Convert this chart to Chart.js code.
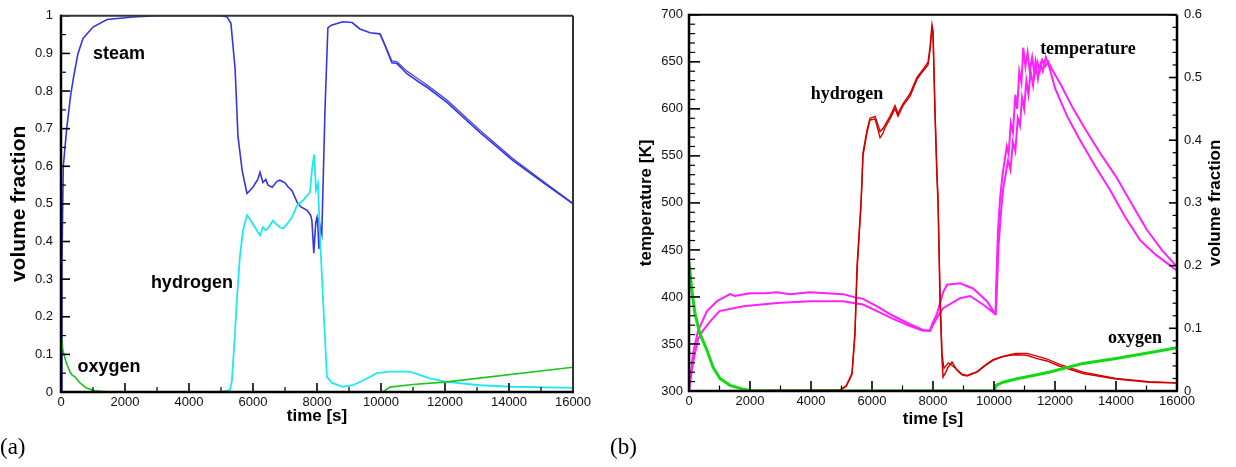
<!DOCTYPE html>
<html>
<head>
<meta charset="utf-8">
<script src="https://cdn.jsdelivr.net/npm/chart.js@4.4.0/dist/chart.umd.min.js"></script>
<style>
body { margin: 0; background: #fff; width: 1236px; height: 467px; position: relative; overflow: hidden; }
canvas { position: absolute; top: 0; }
#ca { left: 0; }
#cb { left: 605px; }
.tag { position: absolute; top: 435px; font: 23px "Liberation Serif", "Times New Roman", serif; line-height: 23px; color: #000; }
</style>
</head>
<body>
<canvas id="ca" width="600" height="467"></canvas>
<canvas id="cb" width="631" height="467"></canvas>
<div class="tag" style="left:0">(a)</div>
<div class="tag" style="left:610px">(b)</div>
<script>
// ---- (a) volume fractions ----
const steamTime = [0, 30, 72, 178, 303, 400, 531, 688, 1000, 1438, 2250, 3000, 5000, 5190, 5310, 5440, 5530, 5660, 5810, 5900, 6000, 6150, 6220, 6310, 6400, 6470, 6600, 6750, 6840, 7000, 7100, 7220, 7380, 7500, 7690, 7800, 7840, 7900, 7960, 8000, 8030, 8060, 8100, 8150, 8250, 8340, 8450, 8810, 9100, 9340, 9660, 9970, 10060, 10190, 10340, 10500, 10810, 11220, 11440, 12060, 13090, 14125, 15190, 16000];
const steamFrac = [0, 0.35, 0.6, 0.7, 0.79, 0.84, 0.9, 0.94, 0.97, 0.99, 0.997, 1, 1, 0.997, 0.98, 0.86, 0.68, 0.59, 0.528, 0.535, 0.545, 0.565, 0.584, 0.557, 0.565, 0.55, 0.544, 0.56, 0.563, 0.556, 0.545, 0.535, 0.504, 0.492, 0.483, 0.47, 0.456, 0.369, 0.45, 0.464, 0.438, 0.38, 0.44, 0.42, 0.75, 0.968, 0.975, 0.984, 0.982, 0.965, 0.955, 0.952, 0.934, 0.907, 0.875, 0.873, 0.846, 0.822, 0.81, 0.77, 0.69, 0.615, 0.549, 0.5];
const steam2Time = [9970, 10060, 10190, 10340, 10500, 10810, 11220, 11440, 12060, 13090, 14125, 15190, 16000];
const steam2Frac = [0.952, 0.936, 0.91, 0.88, 0.878, 0.853, 0.829, 0.816, 0.776, 0.696, 0.62, 0.552, 0.502];

const h2Time = [0, 4970, 5280, 5340, 5440, 5500, 5590, 5690, 5810, 5900, 6060, 6220, 6310, 6400, 6470, 6625, 6700, 6840, 6940, 7100, 7220, 7380, 7560, 7780, 7840, 7910, 7970, 8030, 8090, 8190, 8310, 8470, 8810, 9130, 9560, 9875, 10280, 10900, 11530, 12060, 13090, 14125, 16000];
const h2Frac = [0, 0, 0.005, 0.03, 0.16, 0.25, 0.36, 0.43, 0.47, 0.46, 0.438, 0.416, 0.438, 0.43, 0.435, 0.456, 0.448, 0.438, 0.435, 0.45, 0.465, 0.496, 0.509, 0.531, 0.589, 0.631, 0.536, 0.554, 0.42, 0.244, 0.04, 0.024, 0.014, 0.018, 0.036, 0.05, 0.054, 0.054, 0.036, 0.027, 0.018, 0.014, 0.011];

const o2Time = [0, 62, 156, 281, 350, 438, 594, 781, 1060, 1530, 10060, 10280, 11000, 12060, 16000];
const o2Frac = [0.157, 0.11, 0.08, 0.053, 0.045, 0.04, 0.024, 0.011, 0.003, 0, 0, 0.013, 0.02, 0.027, 0.066];

// ---- (b) temperature [K] and volume fractions ----
const tempATime = [0, 33, 131, 295, 590, 918, 1344, 1500, 2000, 2500, 2885, 3300, 3968, 4500, 5050, 5400, 5705, 6165, 6690, 7246, 7673, 7902, 7968, 8131, 8330, 8460, 8886, 9312, 9770, 10034, 10060, 10130, 10200, 10280, 10350, 10420, 10480, 10550, 10620, 10700, 10760, 10830, 10900, 10960, 11030, 11100, 11170, 11250, 11330, 11420, 11500, 11580, 11680, 11780, 11900, 12200, 12600, 13000, 13500, 14000, 14500, 15000, 15500, 16000];
const tempAK = [300, 311, 340, 364, 385, 395.5, 403, 401, 404, 404, 405, 403, 405, 404, 403, 400, 398, 390, 380, 371, 365, 364, 371, 382, 405, 413, 414.5, 409, 395.5, 382, 400, 470, 505, 530, 545, 560, 552, 585, 575, 615, 600, 640, 628, 665, 645, 660, 640, 655, 636, 650, 640, 652, 645, 650, 642, 625, 600, 578, 552, 528, 500, 472, 450, 432];
const tempBTime = [0, 33, 131, 295, 450, 710, 1000, 1780, 2885, 3968, 5050, 5705, 6165, 6690, 7246, 7673, 7902, 8131, 8330, 8886, 9214, 9640, 10034, 10080, 10150, 10230, 10300, 10380, 10460, 10540, 10620, 10700, 10780, 10850, 10920, 10990, 11060, 11130, 11200, 11280, 11360, 11440, 11520, 11600, 11700, 11780, 11850, 12000, 12400, 12800, 13300, 13800, 14300, 14800, 15300, 16000];
const tempBK = [300, 308, 330, 355, 364, 374.5, 385, 390, 393.5, 395.5, 395.5, 392, 385, 376.6, 369, 364, 364, 378, 388, 398.7, 401, 392, 382, 395, 455, 490, 515, 530, 545, 535, 565, 555, 590, 582, 612, 600, 630, 615, 640, 625, 650, 632, 648, 640, 655, 648, 640, 622, 592, 568, 540, 514, 485, 460, 445, 428];

const h2ATime = [0, 4950, 5150, 5345, 5443, 5510, 5575, 5640, 5705, 5837, 5935, 6100, 6263, 6350, 6427, 6590, 6755, 6853, 7017, 7246, 7476, 7673, 7837, 7902, 7968, 8000, 8066, 8132, 8165, 8230, 8296, 8330, 8420, 8493, 8624, 8788, 8950, 9116, 9444, 9700, 9968, 10250, 10525, 10722, 11083, 11380, 11740, 12132, 12920, 14000, 15085, 16000];
const h2AFrac = [0, 0.0016, 0.008, 0.028, 0.096, 0.2, 0.25, 0.3, 0.38, 0.416, 0.435, 0.438, 0.414, 0.418, 0.424, 0.438, 0.455, 0.442, 0.458, 0.474, 0.5, 0.513, 0.524, 0.548, 0.584, 0.575, 0.44, 0.337, 0.3, 0.143, 0.049, 0.022, 0.03, 0.038, 0.046, 0.033, 0.026, 0.024, 0.03, 0.04, 0.049, 0.054, 0.057, 0.058, 0.057, 0.052, 0.048, 0.04, 0.028, 0.019, 0.014, 0.0126];
const h2BTime = [0, 4950, 5150, 5345, 5443, 5510, 5575, 5640, 5705, 5837, 5935, 6100, 6263, 6350, 6427, 6590, 6755, 6853, 7017, 7246, 7476, 7673, 7837, 7902, 7968, 8000, 8066, 8132, 8165, 8230, 8296, 8360, 8500, 8650, 8788, 8950, 9116, 9444, 9700, 9968, 10250, 10525, 10722, 11083, 11380, 11740, 12132, 12920, 14000, 15085, 16000];
const h2BFrac = [0, 0.0016, 0.007, 0.026, 0.09, 0.19, 0.245, 0.295, 0.375, 0.412, 0.432, 0.434, 0.404, 0.41, 0.42, 0.434, 0.45, 0.438, 0.455, 0.47, 0.497, 0.51, 0.52, 0.543, 0.578, 0.57, 0.45, 0.345, 0.31, 0.16, 0.06, 0.036, 0.045, 0.04, 0.034, 0.027, 0.025, 0.031, 0.041, 0.05, 0.055, 0.058, 0.06, 0.06, 0.056, 0.051, 0.043, 0.03, 0.02, 0.015, 0.013];

const o2bTime = [0, 98, 197, 360, 590, 787, 1016, 1344, 1770, 2100, 10000, 10066, 10296, 10722, 11804, 12920, 14000, 15085, 16000];
const o2bFrac = [0.205, 0.159, 0.123, 0.091, 0.065, 0.038, 0.02, 0.009, 0.003, 0, 0, 0.009, 0.014, 0.019, 0.03, 0.044, 0.052, 0.061, 0.069];

const byId = id => document.getElementById(id);
const pts = (ts, vs) => ts.map((t, i) => ({x: t, y: vs[i]}));
const SANS = '"Liberation Sans", Arial, sans-serif';
const SERIF = '"Liberation Serif", "Times New Roman", serif';

Chart.defaults.font.family = SANS;
Chart.defaults.color = '#111';

function line(data, color, width, yAxisID) {
    return {data, borderColor: color, backgroundColor: color, borderWidth: width,
        pointRadius: 0, tension: 0, fill: false, yAxisID: yAxisID || 'y'};
}

function xScale(height) {
    return {
        type: 'linear', min: 0, max: 16000,
        grid: {display: false, drawTicks: false}, border: {display: false},
        ticks: {stepSize: 2000, padding: 3, font: {size: 13}, maxRotation: 0, autoSkip: false, callback: v => String(v)},
        title: {display: true, text: 'time [s]', color: '#000', font: {size: 17, weight: 'bold'}, padding: 0},
        afterFit: s => { s.height = height; }
    };
}

function yScale(min, max, step, width, pad, position, fmt, title) {
    return {
        type: 'linear', position, min, max,
        grid: {display: false, drawTicks: false}, border: {display: false},
        ticks: {stepSize: step, padding: pad, font: {size: 13}, autoSkip: false, callback: fmt},
        title: title || {display: false},
        afterFit: s => { s.width = width; }
    };
}

const frac = v => String(Number(v.toFixed(1)));

// ticks inside the frame, frame lines, curve labels
const decor = {
    id: 'decor',
    afterDatasetsDraw(chart, args, opts) {
        const {ctx, chartArea: a} = chart;
        ctx.save();
        ctx.strokeStyle = '#000';
        opts.ticks.forEach(tk => {
            const s = chart.scales[tk.axis];
            const n = Math.round((s.max - s.min) / tk.minor);
            for (let i = 0; i <= n; i++) {
                const v = s.min + i * tk.minor;
                const r = v / tk.major;
                const major = Math.abs(r - Math.round(r)) < 1e-6;
                const len = major ? tk.len : tk.len * 0.55;
                ctx.lineWidth = major ? 1.6 : 1.2;
                ctx.beginPath();
                if (tk.side === 'bottom') {
                    const p = s.getPixelForValue(v);
                    ctx.moveTo(p, a.bottom); ctx.lineTo(p, a.bottom - len);
                } else if (tk.side === 'left') {
                    const p = s.getPixelForValue(v);
                    ctx.moveTo(a.left, p); ctx.lineTo(a.left + len, p);
                } else {
                    const p = s.getPixelForValue(v);
                    ctx.moveTo(a.right, p); ctx.lineTo(a.right - len, p);
                }
                ctx.stroke();
            }
        });
        const f = opts.frame;
        const seg = (x1, y1, x2, y2, c, w) => {
            ctx.strokeStyle = c; ctx.lineWidth = w;
            ctx.beginPath(); ctx.moveTo(x1, y1); ctx.lineTo(x2, y2); ctx.stroke();
        };
        seg(a.left, a.top, a.right, a.top, f.top[0], f.top[1]);
        seg(a.right, a.top, a.right, a.bottom, f.right[0], f.right[1]);
        seg(a.left, a.top - 1, a.left, a.bottom + 1, '#000', 2.5);
        seg(a.left - 1, a.bottom, a.right + 1, a.bottom, '#000', 2.5);

        ctx.fillStyle = '#000';
        ctx.textAlign = 'center';
        ctx.textBaseline = 'alphabetic';
        opts.labels.forEach(l => {
            ctx.font = l.font;
            ctx.fillText(l.text, chart.scales.x.getPixelForValue(l.x), chart.scales[l.axis].getPixelForValue(l.y));
        });
        if (opts.rightTitle) {
            const s = chart.scales[opts.rightTitle.axis];
            ctx.font = opts.rightTitle.font;
            ctx.textBaseline = 'middle';
            ctx.translate(s.left + opts.rightTitle.offset, (a.top + a.bottom) / 2);
            ctx.rotate(-Math.PI / 2);
            ctx.fillText(opts.rightTitle.text, 0, 0);
        }
        ctx.restore();
    }
};

new Chart(byId('ca'), {
    type: 'line',
    data: {
        datasets: [
            line(pts(o2Time, o2Frac), '#1cc41c', 1.6),
            line(pts(h2Time, h2Frac), '#1ee8f0', 1.8),
            line(pts(steam2Time, steam2Frac), '#3a3ae6', 1.2),
            line(pts(steamTime, steamFrac), '#3434e4', 1.6)
        ]
    },
    options: {
        responsive: false, animation: false,
        layout: {padding: {left: 0, top: 15, right: 27, bottom: 40}},
        scales: {
            x: xScale(35),
            y: yScale(0, 1, 0.1, 61, 8, 'left', frac,
                {display: true, text: 'volume fraction', color: '#000', font: {size: 21, weight: 'bold'}, padding: {top: 7, bottom: 0}})
        },
        plugins: {
            legend: {display: false}, tooltip: {enabled: false},
            decor: {
                ticks: [
                    {axis: 'x', side: 'bottom', major: 2000, minor: 1000, len: 9},
                    {axis: 'y', side: 'left', major: 0.1, minor: 0.05, len: 9}
                ],
                frame: {top: ['#333', 2], right: ['#333', 2]},
                labels: [
                    {text: 'steam', x: 1810, y: 0.886, axis: 'y', font: 'bold 18px ' + SANS},
                    {text: 'hydrogen', x: 4090, y: 0.276, axis: 'y', font: 'bold 18px ' + SANS},
                    {text: 'oxygen', x: 1500, y: 0.053, axis: 'y', font: 'bold 18px ' + SANS}
                ]
            }
        }
    },
    plugins: [decor]
});

new Chart(byId('cb'), {
    type: 'line',
    data: {
        datasets: [
            line(pts(o2bTime, o2bFrac), '#14d814', 3, 'y2'),
            line(pts(h2BTime, h2BFrac), '#d00000', 1.3, 'y2'),
            line(pts(h2ATime, h2AFrac), '#d40000', 1.5, 'y2'),
            line(pts(tempBTime, tempBK), '#ff20ff', 2),
            line(pts(tempATime, tempAK), '#ff20ff', 2)
        ]
    },
    options: {
        responsive: false, animation: false,
        layout: {padding: {left: 0, top: 10, right: 0, bottom: 37}},
        scales: {
            x: xScale(39),
            y: yScale(300, 700, 50, 84, 6, 'left', v => String(v),
                {display: true, text: 'temperature [K]', color: '#000', font: {size: 17, weight: 'bold'}, padding: {top: 31, bottom: 0}}),
            y2: yScale(0, 0.6, 0.1, 59, 7, 'right', frac)
        },
        plugins: {
            legend: {display: false}, tooltip: {enabled: false},
            decor: {
                ticks: [
                    {axis: 'x', side: 'bottom', major: 2000, minor: 1000, len: 10},
                    {axis: 'y', side: 'left', major: 50, minor: 10, len: 11},
                    {axis: 'y2', side: 'right', major: 0.1, minor: 0.02, len: 8}
                ],
                frame: {top: ['#000', 2], right: ['#000', 2.5]},
                labels: [
                    {text: 'hydrogen', x: 5180, y: 611, axis: 'y', font: 'bold 18px ' + SERIF},
                    {text: 'temperature', x: 13080, y: 658, axis: 'y', font: 'bold 18px ' + SERIF},
                    {text: 'oxygen', x: 14620, y: 351, axis: 'y', font: 'bold 18px ' + SERIF}
                ],
                rightTitle: {text: 'volume fraction', axis: 'y2', offset: 38, font: 'bold 17px ' + SANS}
            }
        }
    },
    plugins: [decor]
});
</script>
</body>
</html>
